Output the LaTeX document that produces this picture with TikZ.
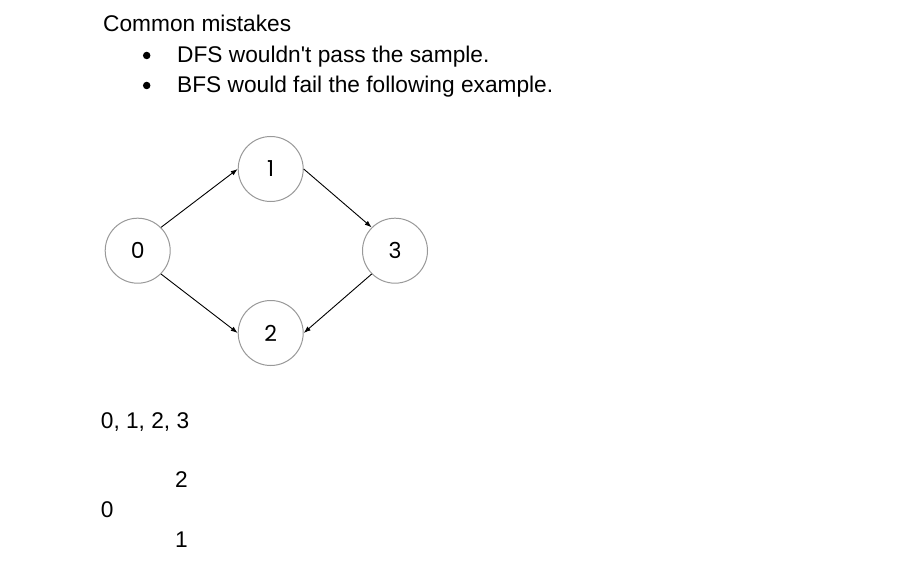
\documentclass[tikz,border=0pt]{standalone}
\usepackage{fontspec}
\setmainfont{Liberation Sans}
\newfontfamily\circfont{Poppins}
\usetikzlibrary{arrows.meta}
\begin{document}
\begin{tikzpicture}[x=1pt,y=1pt,
  txt/.style={anchor=base west,inner sep=0pt,font=\fontsize{22.7}{27}\selectfont},
  bul/.style={circle,fill=black,inner sep=0pt,minimum size=7.5pt},
  vtx/.style={circle,draw=black!40,line width=1pt,minimum size=65pt,inner sep=0pt,font=\circfont\fontsize{22}{26}\selectfont},
  arr/.style={-{Latex[length=7pt,width=5pt]},line width=0.9pt}]
\useasboundingbox (0,0) rectangle (917,-572);
\fill[white] (0,0) rectangle (917,-572);
\node[txt] (title) at (103,-32) {Common mistakes};
\node[bul] (b1) at (146.7,-55.5) {};
\node[txt] (l1) at (177,-63) {DFS wouldn\textquotesingle t pass the sample.};
\node[bul] (b2) at (146.7,-85.5) {};
\node[txt] (l2) at (177,-93) {BFS would fail the following example.};
\node[vtx] (n0) at (137.7,-250.7) {0};
\node[vtx] (n1) at (270.7,-169) {1};
\node[vtx] (n3) at (395,-250.7) {3};
\node[vtx] (n2) at (270.7,-333) {2};
\draw[arr] (n0.45) -- (n1.west);
\draw[arr] (n1.east) -- (n3.135);
\draw[arr] (n0.-45) -- (n2.west);
\draw[arr] (n3.-135) -- (n2.east);
\node[txt] (seq) at (100.7,-428) {0, 1, 2, 3};
\node[txt,anchor=base east] (t2) at (188,-487) {2};
\node[txt] (t0) at (100.7,-517) {0};
\node[txt,anchor=base east] (t1) at (188,-547) {1};
\end{tikzpicture}
\end{document}
